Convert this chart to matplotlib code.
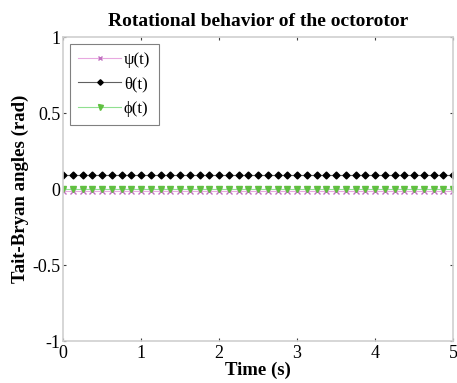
import matplotlib.pyplot as plt
import numpy as np

plt.rcParams['font.family'] = ['Liberation Serif', 'DejaVu Serif']

# time samples (s) and angle values (rad), constant over the run
t = np.linspace(0, 5, 41)
psi = np.full(41, -0.012)
theta = np.full(41, 0.095)
phi = np.full(41, 0.0)

fig = plt.figure(figsize=(4.57, 3.83), dpi=100)
ax = fig.add_axes([63/457, 1 - 341/383, 390/457, 304/383])

ax.plot(t, psi, color='#e8a8e0', lw=0.8, marker='x', ms=4, mew=1.0,
        mec='#c070c0', label='ψ(t)')
ax.plot(t, theta, color='#606060', lw=0.8, marker='D', ms=3.5,
        mfc='black', mec='black', label='θ(t)')
ax.plot(t, phi, color='#90e090', lw=0.8, marker='v', ms=4.5,
        mfc='#60c040', mec='#60c040', label='ϕ(t)')

ax.set_xlim(0, 5)
ax.set_ylim(-1, 1)
ax.set_xticks([0, 1, 2, 3, 4, 5])
ax.set_yticks([-1, -0.5, 0, 0.5, 1])
ax.set_yticklabels(['-1', '-0.5', '0', '0.5', '1'])
for s in ax.spines.values():
    s.set_color('#d0d0d0')
    s.set_linewidth(1.2)
ax.tick_params(direction='in', length=2, width=0.8, color='#404040',
               labelsize=13, top=True, right=True)
ax.tick_params(axis='x', pad=3)
ax.tick_params(axis='y', pad=2)

ax.set_title('Rotational behavior of the octorotor', fontsize=14,
             fontweight='bold', pad=8)
ax.set_xlabel('Time (s)', fontsize=13.5, fontweight='bold', labelpad=0)
ax.set_ylabel('Tait-Bryan angles (rad)', fontsize=13.5, fontweight='bold',
              labelpad=2)

leg = ax.legend(loc='upper left', fancybox=False,
                edgecolor='#808080', framealpha=1, handlelength=2.6,
                borderaxespad=0.4, handletextpad=0.15, labelspacing=0.5,
                borderpad=0.5, markerscale=0.8,
                prop={'family': 'Liberation Serif', 'size': 12})
leg.get_frame().set_linewidth(0.8)

fig.savefig('out.png', dpi=100)
